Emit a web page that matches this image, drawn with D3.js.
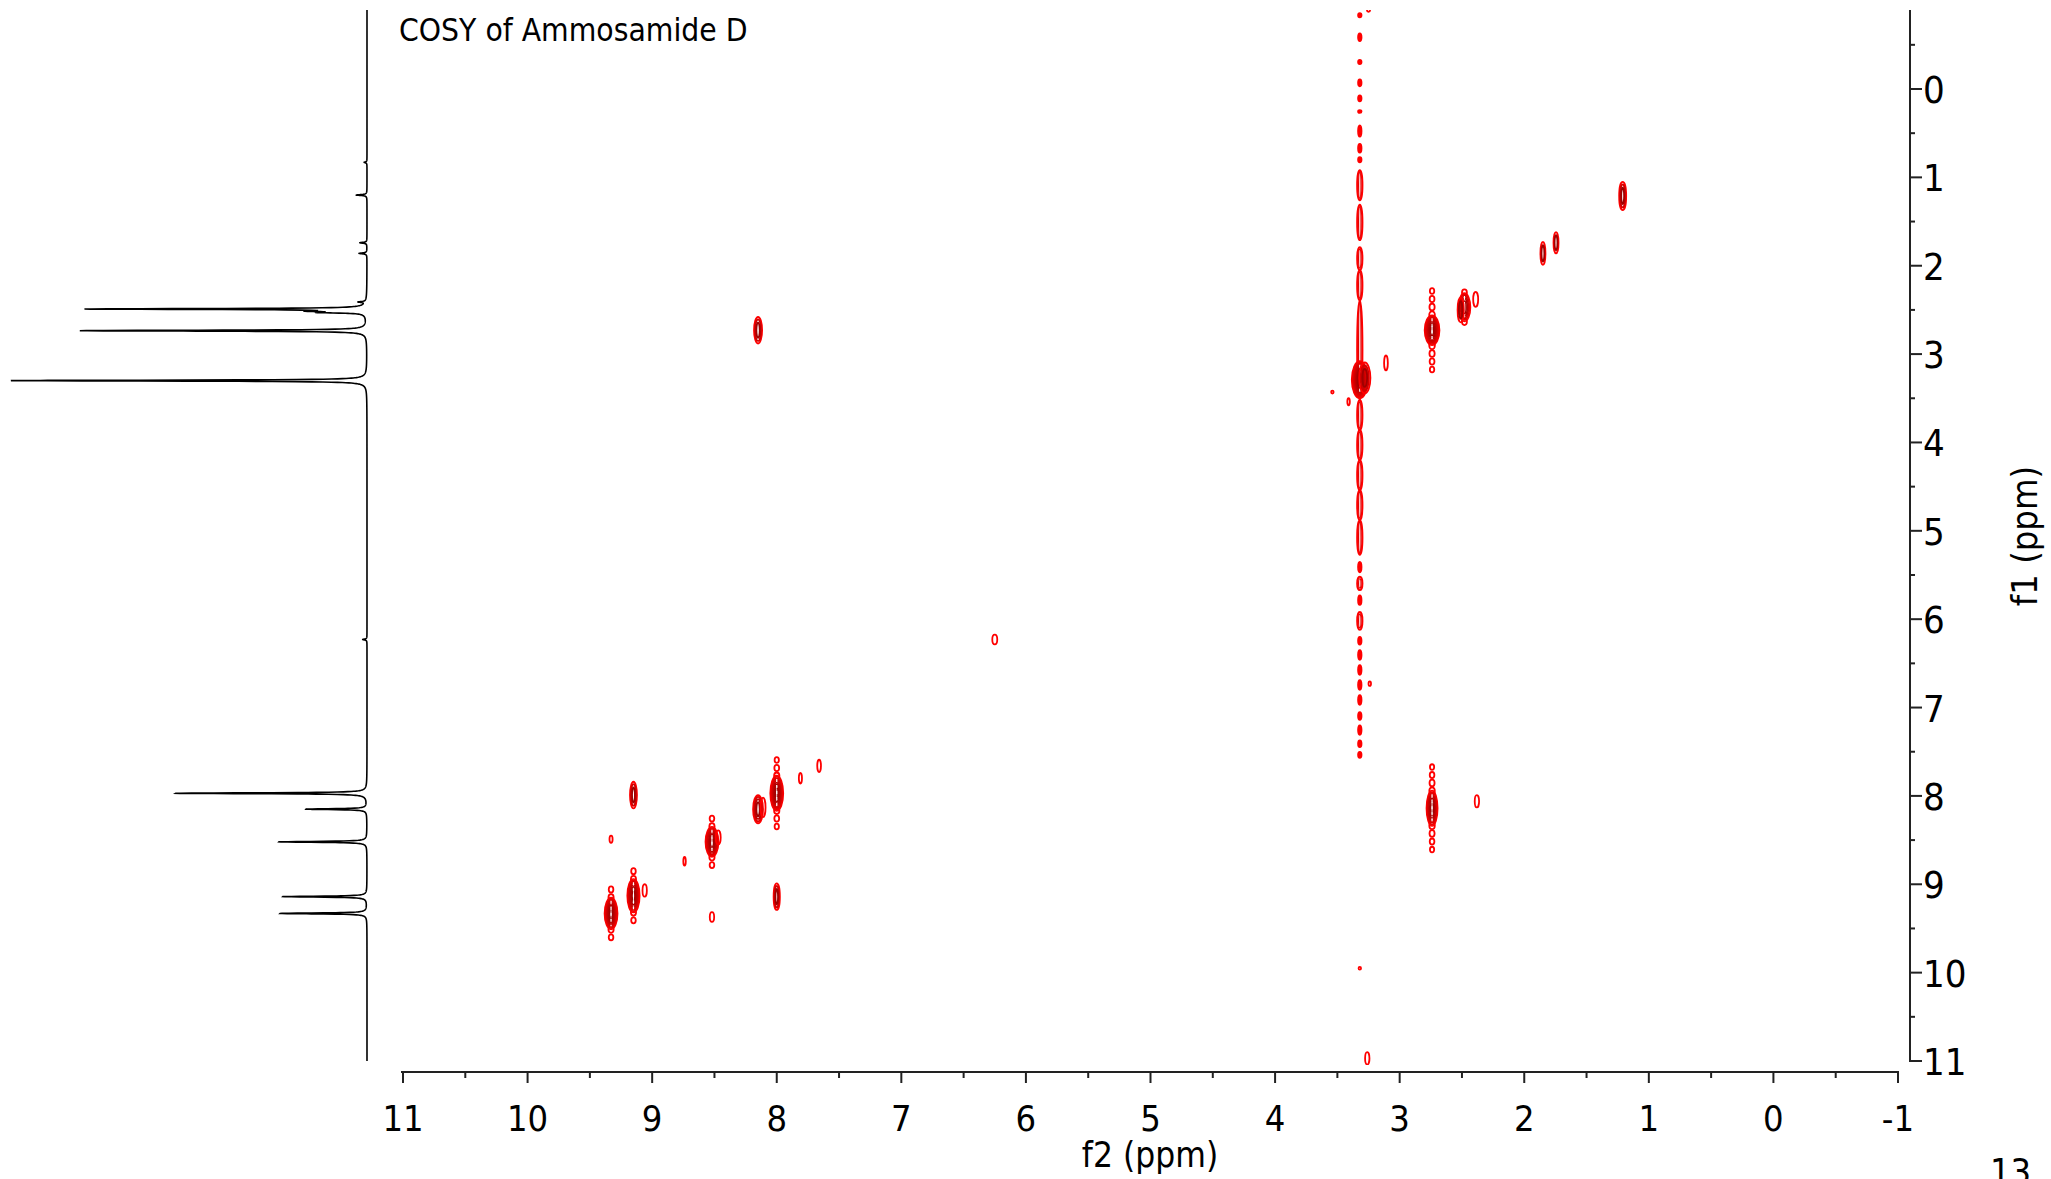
<!DOCTYPE html>
<html>
<head>
<meta charset="utf-8">
<script src="https://cdn.jsdelivr.net/npm/d3@7"></script>
<style>
body { margin: 0; background: #fff; }
svg { display: block; }
text { font-family: "DejaVu Sans", Verdana, sans-serif; fill: #000; }
</style>
</head>
<body>
<svg id="chart" width="2051" height="1179"></svg>
<script>
//tick labels for both axes
var f2TickValues = [11, 10, 9, 8, 7, 6, 5, 4, 3, 2, 1, 0, -1];
var f1TickValues = [0, 1, 2, 3, 4, 5, 6, 7, 8, 9, 10, 11];

//1D proton trace on the left (shift in ppm, relative height)
var protonShift  = [0.83, 1.20, 1.74, 1.86, 2.41, 2.49, 2.515, 2.53, 2.735, 3.30, 6.23, 7.97, 8.15, 8.52, 9.14, 9.33];
var protonHeight = [0.008, 0.03, 0.02, 0.022, 0.02, 0.784, 0.12, 0.11, 0.806, 1.0, 0.012, 0.537, 0.171, 0.247, 0.236, 0.244];

//COSY cross peaks: f2, f1, linewidths (ppm), contour levels, t1 ridge (ppm)
var cpF2     = [3.32, 3.28, 2.74, 2.48, 2.51, 2.39, 1.85, 1.745, 1.21, 3.11, 6.25, 8.15, 2.74, 2.38, 9.15, 8.00, 8.15, 8.11, 7.81, 7.66, 8.52, 8.47, 9.33, 8.74, 9.15, 9.06, 8.00, 9.33, 8.52, 3.54, 3.41, 3.25, 3.26, 3.24, 3.32];
var cpF1     = [3.29, 3.27, 2.73, 2.47, 2.50, 2.38, 1.86, 1.74, 1.21, 3.10, 6.23, 2.73, 8.14, 8.06, 7.99, 7.97, 8.15, 8.13, 7.80, 7.66, 8.52, 8.47, 8.49, 8.74, 9.13, 9.07, 9.14, 9.33, 9.37, 3.43, 3.54, -0.89, 10.97, 6.73, 9.95];
var cpWidthF2 = [0.13, 0.09, 0.12, 0.096, 0.05, 0.04, 0.04, 0.04, 0.056, 0.03, 0.04, 0.065, 0.09, 0.035, 0.056, 0.105, 0.08, 0.04, 0.025, 0.03, 0.105, 0.04, 0.025, 0.02, 0.10, 0.035, 0.05, 0.105, 0.035, 0.02, 0.02, 0.025, 0.035, 0.02, 0.02];
var cpWidthF1 = [0.42, 0.35, 0.34, 0.32, 0.28, 0.17, 0.26, 0.24, 0.32, 0.17, 0.11, 0.30, 0.40, 0.14, 0.30, 0.40, 0.32, 0.22, 0.12, 0.14, 0.34, 0.16, 0.08, 0.10, 0.38, 0.14, 0.30, 0.36, 0.11, 0.03, 0.08, 0.03, 0.14, 0.05, 0.03];
var cpLevels = [10, 3, 8, 5, 2, 1, 2, 2, 3, 1, 1, 3, 6, 1, 3, 8, 4, 1, 1, 1, 7, 1, 1, 1, 7, 1, 3, 8, 1, 1, 1, 1, 1, 1, 1];
var cpRidge  = [0, 0, 0.5, 0.25, 0, 0, 0, 0, 0, 0, 0, 0, 0.48, 0, 0, 0.4, 0, 0, 0, 0, 0.33, 0, 0, 0, 0.34, 0, 0, 0.34, 0, 0, 0, 0, 0, 0, 0];

//t1 noise streak of the solvent line at 3.32 ppm (f1 start / end)
var streakF2 = 3.32;
var streakStart = [-0.86, -0.63, -0.33, -0.11, 0.07, 0.24, 0.41, 0.62, 0.77, 0.92, 1.31, 1.79, 2.05, 2.39, 3.52, 3.86, 4.20, 4.54, 4.88, 5.35, 5.52, 5.73, 5.92, 6.20, 6.35, 6.52, 6.69, 6.86, 7.05, 7.20, 7.37, 7.50];
var streakEnd   = [-0.81, -0.54, -0.28, -0.03, 0.14, 0.27, 0.54, 0.72, 0.83, 1.26, 1.71, 2.05, 2.39, 3.52, 3.86, 4.20, 4.54, 4.88, 5.27, 5.47, 5.67, 5.84, 6.12, 6.29, 6.46, 6.63, 6.80, 6.97, 7.14, 7.31, 7.45, 7.57];

var svg = d3.select("#chart");

var x = d3.scaleLinear().domain([11, -1]).range([403, 1898]);
var y = d3.scaleLinear().domain([0, 11]).range([89, 1061]);
var f1Top = y.invert(10);
var sx = d3.scaleLinear().domain([0, 1]).range([367, 11]);

//text helper, slightly narrowed glyphs
function label(px, py, str, size, anchor, rot) {
	var t = "translate(" + px + "," + py + ")" + (rot ? " rotate(" + rot + ")" : "") + " scale(0.9,1)";
	return svg.append("text")
		.attr("transform", t)
		.attr("text-anchor", anchor || "start")
		.style("font-size", size + "px")
		.text(str);
}

//clip for the 2D area
svg.append("clipPath").attr("id", "plotClip")
	.append("rect").attr("x", 390).attr("y", 10).attr("width", 1515).attr("height", 1055);

//---- 1D trace
var samples = d3.range(f1Top, 11.0001, 0.002);
protonShift.forEach(function (s) {
	[-3, -2, -1.5, -1, -0.6, -0.3, 0, 0.3, 0.6, 1, 1.5, 2, 3].forEach(function (k) { samples.push(s + k * 0.003); });
});
samples.sort(d3.ascending);
var lw = 0.006;
var trace = samples.map(function (p) {
	var v = 0;
	protonShift.forEach(function (s, i) {
		v += protonHeight[i] * lw * lw / ((p - s) * (p - s) + lw * lw);
	});
	return [p, v];
});
svg.append("path")
	.datum(trace)
	.attr("fill", "none")
	.attr("stroke", "#000")
	.attr("stroke-width", 1.6)
	.attr("d", d3.line().x(function (d) { return sx(d[1]); }).y(function (d) { return y(d[0]); }));

//---- 2D contours
var cont = svg.append("g").attr("clip-path", "url(#plotClip)");

//solvent streak, short pieces look solid, long ones are double rings
streakStart.forEach(function (s, i) {
	var cy = (y(s) + y(streakEnd[i])) / 2;
	var ry = Math.max(1.5, (y(streakEnd[i]) - y(s)) / 2);
	cont.append("ellipse")
		.attr("cx", x(streakF2)).attr("cy", cy)
		.attr("rx", ry > 6 ? 2.6 : 1.8).attr("ry", ry)
		.attr("fill", ry > 6 ? "none" : "#ff0000")
		.attr("stroke", "#ff0000").attr("stroke-width", ry > 6 ? 2 : 1.6);
	if (ry > 6) {
		cont.append("ellipse")
			.attr("cx", x(streakF2)).attr("cy", cy)
			.attr("rx", 1.2).attr("ry", ry - 2)
			.attr("fill", "none").attr("stroke", "#e00000").attr("stroke-width", 1.2);
	}
});

cpF2.forEach(function (f2, i) {
	var cx = x(f2), cy = y(cpF1[i]);
	var rx = Math.abs(x(f2 + cpWidthF2[i] / 2) - cx);
	var ry = y(cpF1[i] + cpWidthF1[i] / 2) - cy;
	var n = cpLevels[i];

	//ridge of small rings above and below the strong peaks
	if (cpRidge[i] > 0) {
		var reach = y(cpF1[i] + cpRidge[i]) - cy;
		[-1, 1].forEach(function (dir) {
			for (var d = ry * 0.75 + 4; d <= reach; d += 8) {
				var f = 1 - 0.35 * (d / reach);
				cont.append("ellipse")
					.attr("cx", cx).attr("cy", cy + dir * d)
					.attr("rx", 3.2 * f).attr("ry", 4.2 * f)
					.attr("fill", "none").attr("stroke", "#ff0000").attr("stroke-width", 1.8);
			}
		});
	}

	var col = d3.scaleLinear().domain([1, Math.max(n, 2)]).range(["#ff0000", "#a00000"]);
	for (var k = n; k >= 1; k--) {
		var t = k / n;
		cont.append("ellipse")
			.attr("cx", cx).attr("cy", cy)
			.attr("rx", Math.max(1.0, rx * Math.pow(t, 0.8)))
			.attr("ry", Math.max(1.4, ry * Math.pow(t, 0.5)))
			.attr("fill", "none")
			.attr("stroke", n > 1 ? col(n - k + 1) : "#ff0000")
			.attr("stroke-width", n > 4 ? 1.6 : 1.8);
	}
	//white gaps in the core of the strongest peaks
	if (n >= 5) {
		cont.append("line")
			.attr("x1", cx).attr("x2", cx)
			.attr("y1", cy - ry * 0.8).attr("y2", cy + ry * 0.8)
			.attr("stroke", "#fff").attr("stroke-width", 1.2)
			.attr("stroke-dasharray", "3,3");
	}
});

//---- f2 axis (bottom)
var axisY = 1072;
svg.append("line").attr("x1", x(11) - 2).attr("x2", x(-1) + 1).attr("y1", axisY).attr("y2", axisY)
	.attr("stroke", "#222").attr("stroke-width", 2);
d3.range(11, -1.01, -0.5).forEach(function (v) {
	var major = Math.abs(v - Math.round(v)) < 0.01;
	svg.append("line").attr("x1", x(v)).attr("x2", x(v)).attr("y1", axisY).attr("y2", axisY + (major ? 11 : 6))
		.attr("stroke", "#222").attr("stroke-width", 2);
});
f2TickValues.forEach(function (v) {
	label(x(v), 1131, String(v), 36, "middle");
});
label(1150, 1167, "f2 (ppm)", 35, "middle");

//---- f1 axis (right)
var axisX = 1910;
svg.append("line").attr("x1", axisX).attr("x2", axisX).attr("y1", 10).attr("y2", y(11) + 1)
	.attr("stroke", "#222").attr("stroke-width", 2);
d3.range(-0.5, 11.01, 0.5).forEach(function (v) {
	var major = Math.abs(v - Math.round(v)) < 0.01;
	svg.append("line").attr("x1", axisX).attr("x2", axisX + (major ? 12 : 5)).attr("y1", y(v)).attr("y2", y(v))
		.attr("stroke", "#222").attr("stroke-width", 2);
});
f1TickValues.forEach(function (v) {
	label(axisX + 13, y(v) + 14, String(v), 38, "start");
});
label(2037, 536, "f1 (ppm)", 36, "middle", -90);

//---- title and page number (the number is cut by the page edge, as in the source)
label(399, 41, "COSY of Ammosamide D", 31.5, "start");
label(1990, 1184, "13", 36, "start");
</script>
</body>
</html>
